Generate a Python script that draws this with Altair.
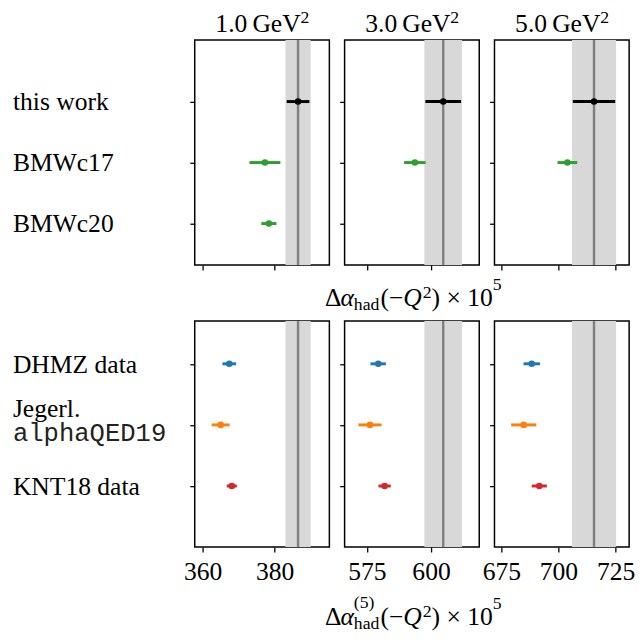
import altair as alt
import pandas as pd

SERIF = "Liberation Serif"
MONO = "Liberation Mono"
FS = 26
FS_SMALL = 18

# ---- data ----
q2_values = ["1.0", "3.0", "5.0"]
title_unit = "GeV"
title_power = "2"
x_domains = [[357.8, 395.2], [566.3, 618.8], [672.0, 730.9]]
x_ticks = [[360, 380], [575, 600], [675, 700, 725]]

band_center = [386.5, 604.75, 715.55]
band_half = [3.5, 7.35, 9.65]

top_names = ["this work", "BMWc17", "BMWc20"]
top_values = [[386.5, 604.75, 715.55], [377.3, 593.7, 703.9], [378.4, None, None]]
top_errors = [[3.15, 6.95, 9.25], [4.3, 4.2, 4.3], [2.1, None, None]]
top_colors = ["#000000", "#2ca02c", "#2ca02c"]

bottom_names = ["DHMZ data", "Jegerl.", "KNT18 data"]
bottom_sub = ["", "alphaQED19", ""]
bottom_values = [[367.4, 579.4, 688.3], [365.0, 576.2, 684.8], [368.1, 581.9, 691.6]]
bottom_errors = [[1.9, 3.0, 3.6], [2.5, 4.5, 5.5], [1.4, 2.4, 3.3]]
bottom_colors = ["#1f77b4", "#ff7f0e", "#d62728"]

row_positions = [3, 2, 1]
y_domains = [[0.32, 4.01], [0.0, 3.70]]

W = 137
H = [229, 230]


def text_piece(txt, x, y, size=FS, style="normal", font=SERIF, align="left", color="black"):
    return alt.Chart(pd.DataFrame({"t": [txt]})).mark_text(
        align=align, baseline="alphabetic", font=font, fontSize=size,
        fontStyle=style, color=color
    ).encode(x=alt.value(x), y=alt.value(y), text="t:N")


def axis_label(y0, with_five):
    x0 = -20
    parts = [
        text_piece("\u0394", x0, y0),
        text_piece("\u03b1", x0 + 15.9, y0, style="italic"),
        text_piece("had", x0 + 29.4, y0 + 4, size=FS_SMALL),
        text_piece("(\u2212", x0 + 56.4, y0),
        text_piece("Q", x0 + 79.7, y0, style="italic"),
        text_piece("2", x0 + 99.5, y0 - 8, size=FS_SMALL),
        text_piece(") \u00d7 10", x0 + 108.5, y0),
        text_piece("5", x0 + 170.8, y0 - 16, size=FS_SMALL),
    ]
    if with_five:
        parts.append(text_piece("(5)", x0 + 29.4, y0 - 17, size=FS_SMALL))
    return parts


def make_panel(row, col):
    if row == 0:
        names, values, errors, colors = top_names, top_values, top_errors, top_colors
    else:
        names, values, errors, colors = bottom_names, bottom_values, bottom_errors, bottom_colors
    recs = []
    for name, vals, errs, colr, pos in zip(names, values, errors, colors, row_positions):
        v = vals[col]
        if v is None:
            continue
        recs.append({"name": name, "pos": pos, "v": v,
                     "lo": v - errs[col], "hi": v + errs[col], "color": colr})
    df = pd.DataFrame(recs)

    xscale = alt.Scale(domain=x_domains[col], nice=False, zero=False)
    yscale = alt.Scale(domain=y_domains[row], nice=False, zero=False)
    xaxis = alt.Axis(values=x_ticks[col], labels=(row == 1), title=None, format="d",
                     labelFlush=False, labelOverlap=False)
    yaxis = alt.Axis(values=row_positions, labels=False, title=None)

    band_df = pd.DataFrame({"lo": [band_center[col] - band_half[col]],
                            "hi": [band_center[col] + band_half[col]],
                            "c": [band_center[col]]})
    band = alt.Chart(band_df).mark_rect(color="#d8d8d8").encode(
        x=alt.X("lo:Q", scale=xscale, axis=xaxis), x2="hi:Q")
    center = alt.Chart(band_df).mark_rule(color="#808080", strokeWidth=2.5).encode(
        x=alt.X("c:Q", scale=xscale, axis=xaxis))
    bars = alt.Chart(df).mark_rule(strokeWidth=3).encode(
        x=alt.X("lo:Q", scale=xscale, axis=xaxis), x2="hi:Q",
        y=alt.Y("pos:Q", scale=yscale, axis=yaxis),
        color=alt.Color("color:N", scale=None))
    pts = alt.Chart(df).mark_circle(size=45, opacity=1).encode(
        x=alt.X("v:Q", scale=xscale, axis=xaxis),
        y=alt.Y("pos:Q", scale=yscale, axis=yaxis),
        color=alt.Color("color:N", scale=None))
    layers = [band, center, bars, pts]

    if col == 0:
        if row == 0:
            ldf = pd.DataFrame({"t": top_names, "pos": row_positions})
            layers.append(alt.Chart(ldf).mark_text(
                align="left", baseline="alphabetic", dy=9, font=SERIF, fontSize=FS, color="black"
            ).encode(x=alt.value(-185), y=alt.Y("pos:Q", scale=yscale, axis=yaxis), text="t:N"))
        else:
            single = pd.DataFrame({"t": [n for n, s in zip(bottom_names, bottom_sub) if s == ""],
                                   "pos": [p for p, s in zip(row_positions, bottom_sub) if s == ""]})
            layers.append(alt.Chart(single).mark_text(
                align="left", baseline="alphabetic", dy=9, font=SERIF, fontSize=FS, color="black"
            ).encode(x=alt.value(-185), y=alt.Y("pos:Q", scale=yscale, axis=yaxis), text="t:N"))
            two = pd.DataFrame({"t": [n for n, s in zip(bottom_names, bottom_sub) if s != ""],
                                "s": [s for s in bottom_sub if s != ""],
                                "pos": [p for p, s in zip(row_positions, bottom_sub) if s != ""]})
            layers.append(alt.Chart(two).mark_text(
                align="left", baseline="alphabetic", dy=-8, font=SERIF, fontSize=FS, color="black"
            ).encode(x=alt.value(-185), y=alt.Y("pos:Q", scale=yscale, axis=yaxis), text="t:N"))
            layers.append(alt.Chart(two).mark_text(
                align="left", baseline="alphabetic", dy=16, font=MONO, fontSize=FS, color="#222222"
            ).encode(x=alt.value(-185), y=alt.Y("pos:Q", scale=yscale, axis=yaxis), text="s:N"))

    if row == 0:
        tx = W / 2 - 47.5
        layers.append(text_piece(q2_values[col] + "\u2009" + title_unit, tx, -8))
        layers.append(text_piece(title_power, tx + 86.5, -17, size=FS_SMALL))

    if col == 1:
        if row == 0:
            layers.extend(axis_label(H[0] + 41.6, False))
        else:
            layers.extend(axis_label(H[1] + 79, True))

    return alt.layer(*layers).properties(width=W, height=H[row])


rows = [alt.hconcat(*[make_panel(r, c) for c in range(3)], spacing=15.5, bounds="flush")
        for r in range(2)]

chart = alt.vconcat(*rows, spacing=4).properties(
    padding={"left": 4, "top": -5, "right": 0, "bottom": 0}
).configure_view(
    stroke="black", strokeWidth=1.5
).configure_axis(
    domain=False, grid=False, ticks=True, tickColor="black", tickWidth=1.3, tickSize=5,
    labelFont=SERIF, labelFontSize=FS, labelColor="black", labelPadding=7
)

chart.save("out.html", embed_options={"renderer": "svg", "actions": False})
